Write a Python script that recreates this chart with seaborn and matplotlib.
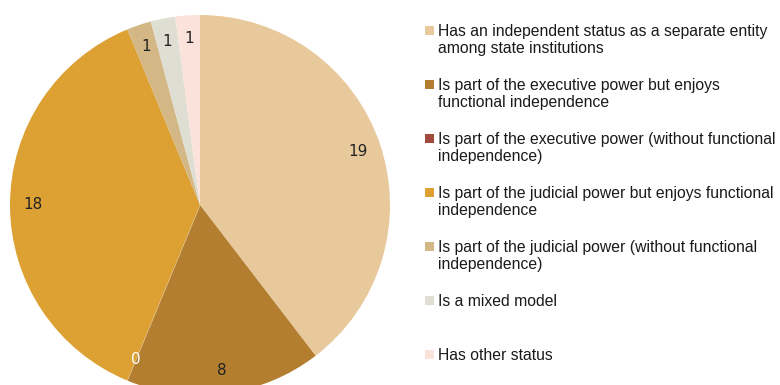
import matplotlib
matplotlib.use("Agg")
import matplotlib.pyplot as plt
import seaborn as sns
from matplotlib.patches import Rectangle

sns.set_style("white")

categories = [
    "Has an independent status as a separate entity\namong state institutions",
    "Is part of the executive power but enjoys\nfunctional independence",
    "Is part of the executive power (without functional\nindependence)",
    "Is part of the judicial power but enjoys functional\nindependence",
    "Is part of the judicial power (without functional\nindependence)",
    "Is a mixed model",
    "Has other status",
]
counts = [19, 8, 0, 18, 1, 1, 1]
colors = ["#E8C99B", "#B47E30", "#A04A3C", "#DCA033", "#D3B886", "#DEDED2", "#FBE3DB"]
label_colors = ["#222222", "#222222", "white", "#222222", "#222222", "#222222", "#222222"]

W, H = 780, 385
fig = plt.figure(figsize=(W / 100, H / 100), dpi=100)
ax = fig.add_axes([10 / W, -10 / H, 380 / W, 380 / H])

wedges, texts = ax.pie(
    counts,
    colors=colors,
    labels=[str(c) for c in counts],
    labeldistance=0.88,
    startangle=90,
    counterclock=False,
    radius=1.0,
    wedgeprops=dict(edgecolor="none", linewidth=0),
    textprops=dict(fontsize=11, family="DejaVu Sans"),
)
for w, n in zip(wedges, counts):
    if n == 0:
        # an empty category still shows as a faint hairline
        w.set_edgecolor((1, 1, 1, 0.45))
        w.set_linewidth(0.8)
for t, c in zip(texts, label_colors):
    t.set_color(c)
    t.set_ha("center")
    t.set_va("center")
ax.set_xlim(-1, 1)
ax.set_ylim(-1, 1)
ax.set_aspect("equal")
ax.axis("off")

# legend drawn as a column of swatches with wrapped text, one text per line
slot_baselines = [36, 90, 144, 198, 252, 306, 360]
line_step = 17
for base, label, col in zip(slot_baselines, categories, colors):
    fig.patches.append(Rectangle((425 / W, 1 - (base - 1) / H), 9 / W, 9 / H,
                                 transform=fig.transFigure, facecolor=col,
                                 edgecolor="none"))
    for i, line in enumerate(label.split("\n")):
        fig.text(438 / W, 1 - (base + i * line_step) / H, line,
                 ha="left", va="baseline", fontsize=11.3,
                 family="Liberation Sans", color="#1a1a1a")

fig.savefig("out.png", dpi=100)
